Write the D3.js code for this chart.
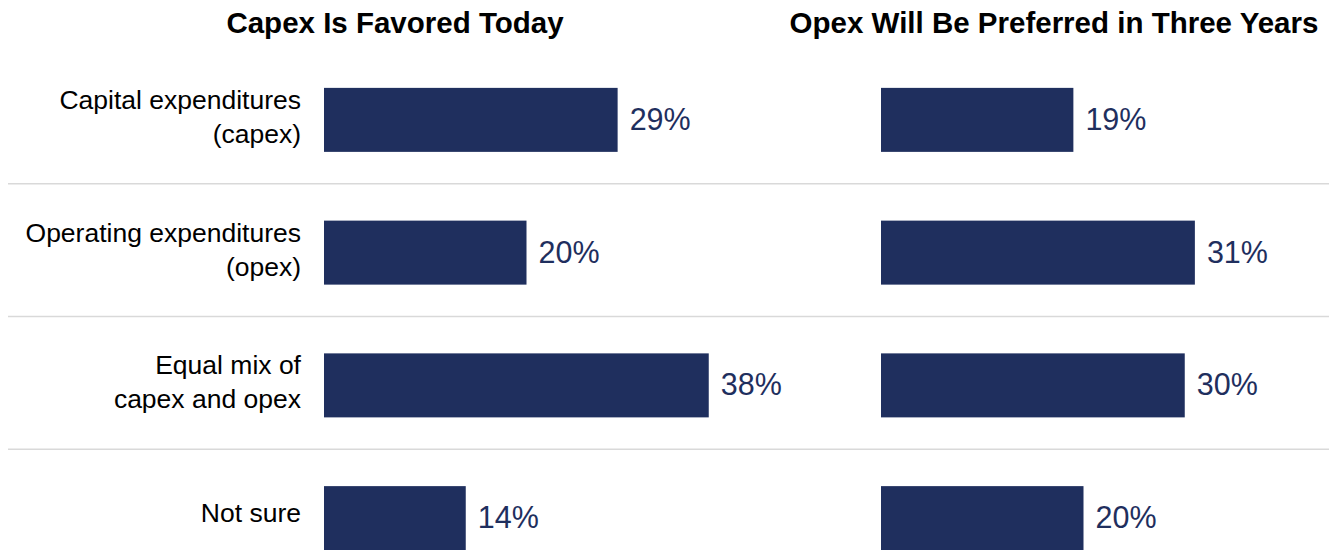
<!DOCTYPE html>
<html>
<head>
<meta charset="utf-8">
<script src="https://cdn.jsdelivr.net/npm/d3@7"></script>
<style>
  html, body { margin: 0; padding: 0; background: #fff; }
  svg { display: block; font-family: Arial, 'Liberation Sans', sans-serif; }
</style>
</head>
<body>
<div id="chart"></div>
<script>
// data
const categories = [
  ['Capital expenditures', '(capex)'],
  ['Operating expenditures', '(opex)'],
  ['Equal mix of', 'capex and opex'],
  ['Not sure']
]
const panelTitles = ['Capex Is Favored Today', 'Opex Will Be Preferred in Three Years']
const todayValues = [29, 20, 38, 14]
const threeYearValues = [19, 31, 30, 20]

const w = 1329, h = 550
const barH = 64
const navy = '#1f2f5e'

const svg = d3.select('#chart').append('svg').attr('width', w).attr('height', h)

const keys = categories.map((c, i) => i)
const y = d3.scaleBand().domain(keys).range([52, 583]).padding(0)

// row separators
svg.selectAll('.sep').data(keys.slice(1)).enter().append('line')
  .attr('x1', 8).attr('x2', w)
  .attr('y1', d => y(d) - 1).attr('y2', d => y(d) - 1)
  .attr('stroke', '#d9d9d9').attr('stroke-width', 1.5)

// category labels
const lab = svg.selectAll('.cat').data(categories).enter().append('text')
  .attr('text-anchor', 'end').attr('font-size', '26.5px').attr('fill', '#000')
lab.each(function (d, i) {
  let cy = y(i) + y.bandwidth() / 2 + 1.5
  let offs = d.length === 1 ? [4] : [-11, 23]
  d.forEach((line, j) => {
    d3.select(this).append('tspan').attr('x', 301).attr('y', cy + offs[j]).text(line)
  })
})

function panel (vals, x0, title, titleX) {
  const x = d3.scaleLinear().domain([0, 40]).range([x0, x0 + 405])
  const g = svg.append('g')
  g.selectAll('.bar').data(vals).enter().append('rect')
    .attr('x', x(0))
    .attr('y', (d, i) => y(i) + y.bandwidth() / 2 + 1.5 - barH / 2)
    .attr('width', d => x(d) - x(0)).attr('height', barH)
    .attr('fill', navy)
  g.selectAll('.val').data(vals).enter().append('text')
    .attr('x', d => x(d) + 12)
    .attr('y', (d, i) => y(i) + y.bandwidth() / 2 + 1.5 + 10)
    .attr('font-size', '30.5px').attr('fill', navy)
    .text(d => d + '%')
  svg.append('text').attr('x', titleX).attr('y', 33)
    .attr('text-anchor', 'middle').attr('font-size', '29.5px').attr('font-weight', 'bold')
    .attr('fill', '#000').text(title)
}

panel(todayValues, 324, panelTitles[0], 395)
panel(threeYearValues, 881, panelTitles[1], 1054)
</script>
</body>
</html>
